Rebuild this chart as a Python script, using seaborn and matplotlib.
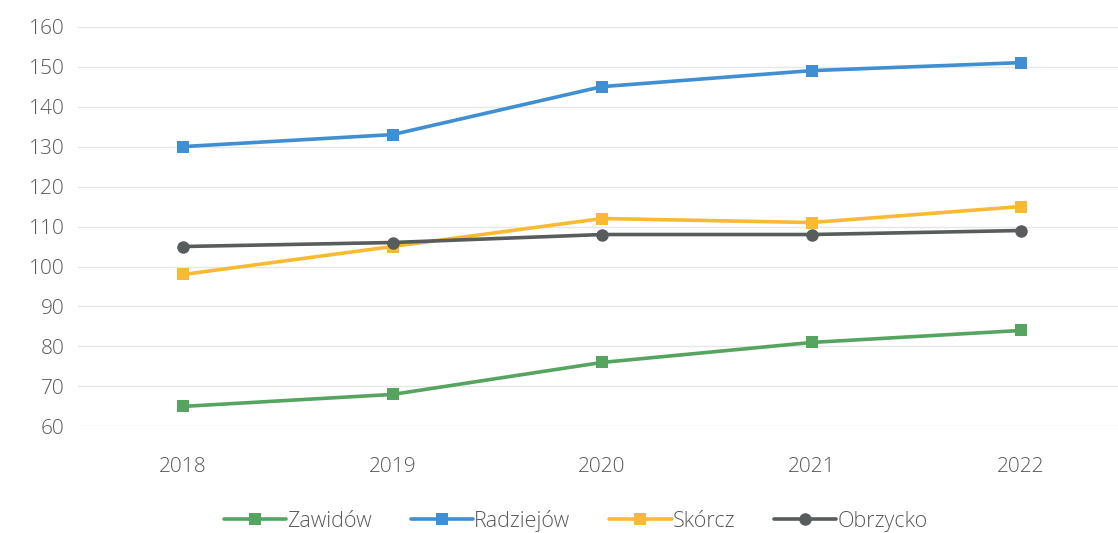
import pandas as pd
import numpy as np
import seaborn as sns
import matplotlib.pyplot as plt

sns.set_style("white")
plt.rcParams['font.family'] = ['Open Sans', 'DejaVu Sans']
plt.rcParams['font.weight'] = 'light'

years = ["2018", "2019", "2020", "2021", "2022"]
zawidow = [65, 68, 76, 81, 84]
radziejow = [130, 133, 145, 149, 151]
skorcz = [98, 105, 112, 111, 115]
obrzycko = [105, 106, 108, 108, 109]

series_names = ["Zawidów", "Radziejów", "Skórcz", "Obrzycko"]
colors = ["#55A460", "#3F8FD2", "#F8BA32", "#585C5C"]

frames = []
for name, vals in zip(series_names, [zawidow, radziejow, skorcz, obrzycko]):
    frames.append(pd.DataFrame({"rok": years, "wartosc": vals, "gmina": name}))
df = pd.concat(frames, ignore_index=True)

fig = plt.figure(figsize=(11.18, 5.33), dpi=100)
ax = fig.add_axes([0.07, 0.2, 0.937, 0.75])

sns.lineplot(data=df, x="rok", y="wartosc", hue="gmina", style="gmina",
             palette=dict(zip(series_names, colors)),
             markers={"Zawidów": "s", "Radziejów": "s", "Skórcz": "s", "Obrzycko": "o"},
             dashes=False, linewidth=2.6, markersize=9, markeredgewidth=0,
             sort=False, ax=ax)

ax.set_xlim(-0.5, len(years) - 0.5)
ax.set_ylim(60, 160)
ax.set_yticks(np.arange(60, 161, 10))
ax.grid(axis="y", color="#E6E6E6", linewidth=1)
ax.set_axisbelow(True)
for s in ax.spines.values():
    s.set_visible(False)
ax.set_xlabel("")
ax.set_ylabel("")
ax.tick_params(axis="both", length=0, labelsize=15, labelcolor="#595959")
ax.tick_params(axis="x", pad=22)
ax.tick_params(axis="y", pad=10)

handles, labels = ax.get_legend_handles_labels()
ax.legend(handles, labels, loc="upper center", bbox_to_anchor=(0.475, -0.16),
          ncol=4, frameon=False, fontsize=15.5, handlelength=2.9,
          handletextpad=0.05, columnspacing=1.8, labelcolor="#595959")

fig.savefig("out.png", dpi=100)
